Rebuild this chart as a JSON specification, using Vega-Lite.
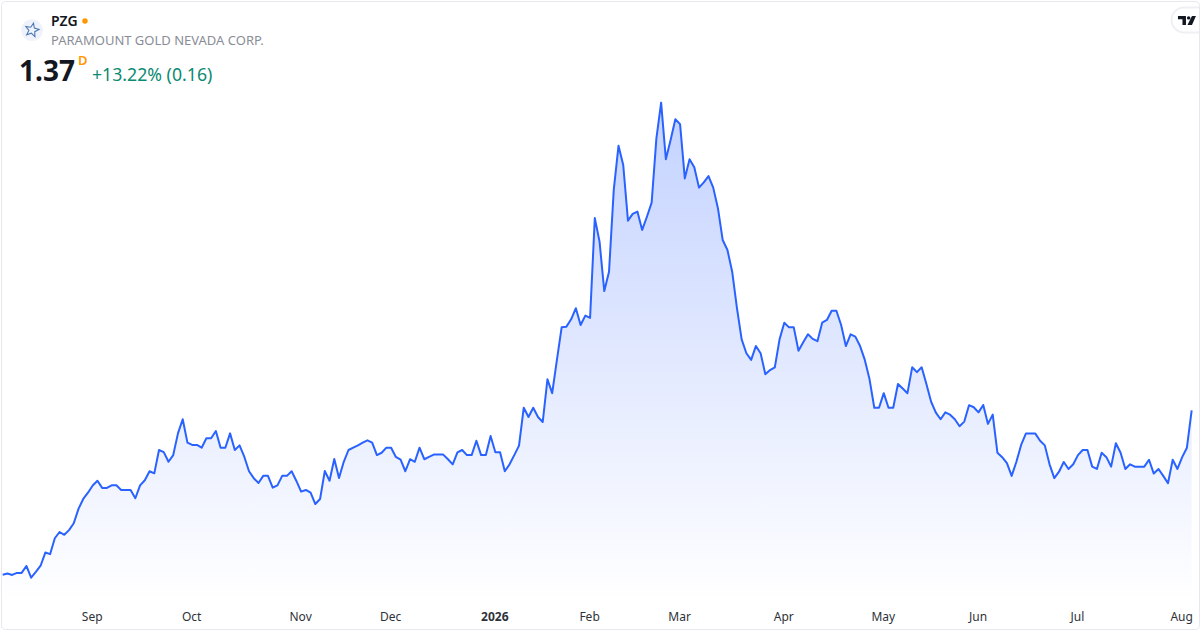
{
  "$schema": "https://vega.github.io/schema/vega-lite/v6.json",
  "description": "PZG daily price, area chart with header",
  "width": 1198,
  "height": 628,
  "padding": 1,
  "autosize": {"type": "none"},
  "background": "white",
  "config": {
    "view": {"stroke": "#e6e8ee", "strokeWidth": 1, "cornerRadius": 4},
    "font": "Noto Sans"
  },
  "datasets": {
    "prices": [
      {"day":0,"price":0.658},{"day":1,"price":0.663},{"day":2,"price":0.657},{"day":3,"price":0.666},{"day":4,"price":0.666},{"day":5,"price":0.696},{"day":6,"price":0.645},{"day":7,"price":0.670},{"day":8,"price":0.697},{"day":9,"price":0.754},
      {"day":10,"price":0.747},{"day":11,"price":0.816},{"day":12,"price":0.843},{"day":13,"price":0.831},{"day":14,"price":0.851},{"day":15,"price":0.881},{"day":16,"price":0.943},{"day":17,"price":0.986},{"day":18,"price":1.013},{"day":19,"price":1.044},
      {"day":20,"price":1.065},{"day":21,"price":1.034},{"day":22,"price":1.034},{"day":23,"price":1.045},{"day":24,"price":1.045},{"day":25,"price":1.025},{"day":26,"price":1.025},{"day":27,"price":1.025},{"day":28,"price":0.989},{"day":29,"price":1.045},
      {"day":30,"price":1.067},{"day":31,"price":1.106},{"day":32,"price":1.097},{"day":33,"price":1.198},{"day":34,"price":1.189},{"day":35,"price":1.147},{"day":36,"price":1.176},{"day":37,"price":1.270},{"day":38,"price":1.331},{"day":39,"price":1.230},
      {"day":40,"price":1.220},{"day":41,"price":1.220},{"day":42,"price":1.208},{"day":43,"price":1.249},{"day":44,"price":1.249},{"day":45,"price":1.280},{"day":46,"price":1.208},{"day":47,"price":1.208},{"day":48,"price":1.270},{"day":49,"price":1.198},
      {"day":50,"price":1.218},{"day":51,"price":1.169},{"day":52,"price":1.106},{"day":53,"price":1.076},{"day":54,"price":1.055},{"day":55,"price":1.086},{"day":56,"price":1.086},{"day":57,"price":1.035},{"day":58,"price":1.045},{"day":59,"price":1.086},
      {"day":60,"price":1.086},{"day":61,"price":1.106},{"day":62,"price":1.064},{"day":63,"price":1.018},{"day":64,"price":1.025},{"day":65,"price":1.013},{"day":66,"price":0.964},{"day":67,"price":0.986},{"day":68,"price":1.107},{"day":69,"price":1.065},
      {"day":70,"price":1.159},{"day":71,"price":1.077},{"day":72,"price":1.147},{"day":73,"price":1.198},{"day":74,"price":1.208},{"day":75,"price":1.218},{"day":76,"price":1.230},{"day":77,"price":1.240},{"day":78,"price":1.230},{"day":79,"price":1.176},
      {"day":80,"price":1.186},{"day":81,"price":1.208},{"day":82,"price":1.208},{"day":83,"price":1.168},{"day":84,"price":1.156},{"day":85,"price":1.106},{"day":86,"price":1.158},{"day":87,"price":1.147},{"day":88,"price":1.208},{"day":89,"price":1.158},
      {"day":90,"price":1.168},{"day":91,"price":1.178},{"day":92,"price":1.178},{"day":93,"price":1.178},{"day":94,"price":1.158},{"day":95,"price":1.136},{"day":96,"price":1.188},{"day":97,"price":1.198},{"day":98,"price":1.176},{"day":99,"price":1.176},
      {"day":100,"price":1.238},{"day":101,"price":1.176},{"day":102,"price":1.176},{"day":103,"price":1.259},{"day":104,"price":1.188},{"day":105,"price":1.188},{"day":106,"price":1.106},{"day":107,"price":1.136},{"day":108,"price":1.176},{"day":109,"price":1.217},
      {"day":110,"price":1.381},{"day":111,"price":1.341},{"day":112,"price":1.381},{"day":113,"price":1.341},{"day":114,"price":1.319},{"day":115,"price":1.504},{"day":116,"price":1.444},{"day":117,"price":1.588},{"day":118,"price":1.729},{"day":119,"price":1.732},
      {"day":120,"price":1.764},{"day":121,"price":1.812},{"day":122,"price":1.739},{"day":123,"price":1.780},{"day":124,"price":1.770},{"day":125,"price":2.202},{"day":126,"price":2.100},{"day":127,"price":1.886},{"day":128,"price":1.970},{"day":129,"price":2.324},
      {"day":130,"price":2.515},{"day":131,"price":2.432},{"day":132,"price":2.191},{"day":133,"price":2.220},{"day":134,"price":2.230},{"day":135,"price":2.151},{"day":136,"price":2.208},{"day":137,"price":2.269},{"day":138,"price":2.547},{"day":139,"price":2.702},
      {"day":140,"price":2.457},{"day":141,"price":2.540},{"day":142,"price":2.630},{"day":143,"price":2.609},{"day":144,"price":2.374},{"day":145,"price":2.457},{"day":146,"price":2.422},{"day":147,"price":2.334},{"day":148,"price":2.357},{"day":149,"price":2.384},
      {"day":150,"price":2.334},{"day":151,"price":2.244},{"day":152,"price":2.107},{"day":153,"price":2.064},{"day":154,"price":1.970},{"day":155,"price":1.813},{"day":156,"price":1.677},{"day":157,"price":1.617},{"day":158,"price":1.588},{"day":159,"price":1.648},
      {"day":160,"price":1.617},{"day":161,"price":1.526},{"day":162,"price":1.544},{"day":163,"price":1.556},{"day":164,"price":1.677},{"day":165,"price":1.749},{"day":166,"price":1.729},{"day":167,"price":1.729},{"day":168,"price":1.628},{"day":169,"price":1.664},
      {"day":170,"price":1.699},{"day":171,"price":1.679},{"day":172,"price":1.669},{"day":173,"price":1.749},{"day":174,"price":1.761},{"day":175,"price":1.801},{"day":176,"price":1.801},{"day":177,"price":1.739},{"day":178,"price":1.648},{"day":179,"price":1.699},
      {"day":180,"price":1.689},{"day":181,"price":1.648},{"day":182,"price":1.588},{"day":183,"price":1.504},{"day":184,"price":1.381},{"day":185,"price":1.381},{"day":186,"price":1.444},{"day":187,"price":1.381},{"day":188,"price":1.381},{"day":189,"price":1.484},
      {"day":190,"price":1.464},{"day":191,"price":1.444},{"day":192,"price":1.556},{"day":193,"price":1.535},{"day":194,"price":1.556},{"day":195,"price":1.484},{"day":196,"price":1.407},{"day":197,"price":1.360},{"day":198,"price":1.331},{"day":199,"price":1.361},
      {"day":200,"price":1.351},{"day":201,"price":1.331},{"day":202,"price":1.301},{"day":203,"price":1.321},{"day":204,"price":1.392},{"day":205,"price":1.383},{"day":206,"price":1.361},{"day":207,"price":1.393},{"day":208,"price":1.311},{"day":209,"price":1.351},
      {"day":210,"price":1.186},{"day":211,"price":1.167},{"day":212,"price":1.141},{"day":213,"price":1.086},{"day":214,"price":1.147},{"day":215,"price":1.220},{"day":216,"price":1.269},{"day":217,"price":1.269},{"day":218,"price":1.269},{"day":219,"price":1.238},
      {"day":220,"price":1.218},{"day":221,"price":1.136},{"day":222,"price":1.076},{"day":223,"price":1.104},{"day":224,"price":1.146},{"day":225,"price":1.116},{"day":226,"price":1.136},{"day":227,"price":1.176},{"day":228,"price":1.198},{"day":229,"price":1.198},
      {"day":230,"price":1.126},{"day":231,"price":1.116},{"day":232,"price":1.186},{"day":233,"price":1.167},{"day":234,"price":1.126},{"day":235,"price":1.227},{"day":236,"price":1.186},{"day":237,"price":1.116},{"day":238,"price":1.136},{"day":239,"price":1.126},
      {"day":240,"price":1.126},{"day":241,"price":1.126},{"day":242,"price":1.156},{"day":243,"price":1.096},{"day":244,"price":1.116},{"day":245,"price":1.086},{"day":246,"price":1.054},{"day":247,"price":1.156},{"day":248,"price":1.116},{"day":249,"price":1.167},
      {"day":250,"price":1.208},{"day":251,"price":1.37}
    ]
  },
  "layer": [
    {
      "data": {"name": "prices"},
      "mark": {
        "type": "area",
        "line": false,
        "color": {
          "gradient": "linear",
          "x1": 1, "y1": 1, "x2": 1, "y2": 0,
          "stops": [
            {"offset": 0, "color": "#ffffff"},
            {"offset": 1, "color": "#c3d2ff"}
          ]
        }
      },
      "encoding": {
        "x": {
          "field": "day",
          "type": "quantitative",
          "scale": {"domain": [-0.359, 252.55], "nice": false, "zero": false},
          "axis": {
            "title": null,
            "orient": "bottom",
            "offset": -27,
            "domain": false,
            "ticks": false,
            "grid": false,
            "labelPadding": 9,
            "labelFontSize": 12,
            "labelColor": "#2e3238",
            "labelFlush": false,
            "labelOverlap": false,
            "labelOffset": -1,
            "values": [19, 40, 63, 82, 104, 124, 143, 165, 186, 206, 227, 249],
            "labelExpr": "{'19':'Sep','40':'Oct','63':'Nov','82':'Dec','104':'2026','124':'Feb','143':'Mar','165':'Apr','186':'May','206':'Jun','227':'Jul','249':'Aug'}[datum.value]",
            "labelFontWeight": {"condition": {"test": "datum.value == 104", "value": 700}, "value": 400}
          }
        },
        "y": {
          "field": "price",
          "type": "quantitative",
          "scale": {"domain": [0.423, 3.142], "nice": false, "zero": false},
          "axis": null
        },
        "y2": {"datum": 0.54}
      }
    },
    {
      "data": {"name": "prices"},
      "mark": {"type": "line", "color": "#2962ff", "strokeWidth": 2, "strokeJoin": "round"},
      "encoding": {
        "x": {"field": "day", "type": "quantitative"},
        "y": {"field": "price", "type": "quantitative"}
      }
    },
    {
      "data": {"values": [{"name": "logo"}]},
      "mark": {"type": "point", "shape": "circle", "filled": true, "color": "#eff2fa", "opacity": 1, "size": 470},
      "encoding": {"x": {"datum": 6.19}, "y": {"datum": 3.016}}
    },
    {
      "data": {"values": [{"name": "logo star"}]},
      "mark": {
        "type": "point",
        "shape": "M0,-.95 L.25,-.34 L.90,-.29 L.40,.13 L.56,.77 L0,.42 L-.56,.77 L-.40,.13 L-.90,-.29 L-.25,-.34 Z",
        "filled": false,
        "stroke": "#4a78b5",
        "strokeWidth": 1.1,
        "opacity": 1,
        "angle": 12,
        "size": 225
      },
      "encoding": {"x": {"datum": 6.19}, "y": {"datum": 3.016}}
    },
    {
      "data": {"values": [{"name": "market status"}]},
      "mark": {"type": "point", "shape": "circle", "filled": true, "color": "#ff9800", "opacity": 1, "size": 30},
      "encoding": {"x": {"datum": 17.37}, "y": {"datum": 3.055}}
    },
    {
      "data": {"values": [{"label": "PZG"}]},
      "mark": {"type": "text", "align": "left", "baseline": "alphabetic", "fontSize": 14, "fontWeight": 600, "color": "#131722"},
      "encoding": {"x": {"datum": 10.2}, "y": {"datum": 3.034}, "text": {"field": "label"}}
    },
    {
      "data": {"values": [{"label": "PARAMOUNT GOLD NEVADA CORP."}]},
      "mark": {"type": "text", "align": "left", "baseline": "alphabetic", "fontSize": 13, "color": "#8a8d96"},
      "encoding": {"x": {"datum": 10.2}, "y": {"datum": 2.951}, "text": {"field": "label"}}
    },
    {
      "data": {"values": [{"label": "1.37"}]},
      "mark": {"type": "text", "align": "left", "baseline": "alphabetic", "fontSize": 28, "fontWeight": 700, "color": "#131722"},
      "encoding": {"x": {"datum": 3.44}, "y": {"datum": 2.796}, "text": {"field": "label"}}
    },
    {
      "data": {"values": [{"label": "D"}]},
      "mark": {"type": "text", "align": "left", "baseline": "alphabetic", "fontSize": 13, "fontWeight": 600, "color": "#ff9800"},
      "encoding": {"x": {"datum": 15.9}, "y": {"datum": 2.864}, "text": {"field": "label"}}
    },
    {
      "data": {"values": [{"label": "+13.22% (0.16)"}]},
      "mark": {"type": "text", "align": "left", "baseline": "alphabetic", "fontSize": 17.7, "color": "#0b8a72"},
      "encoding": {"x": {"datum": 18.85}, "y": {"datum": 2.796}, "text": {"field": "label"}}
    },
    {
      "data": {"values": [{"name": "badge"}]},
      "mark": {
        "type": "point",
        "shape": "M1.1,-.83 L-.2,-.83 A.83,.83 0 0 0 -.2,.83 L1.1,.83 Z",
        "filled": true,
        "fill": "#ffffff",
        "stroke": "#eff0f4",
        "strokeWidth": 2,
        "opacity": 1,
        "size": 900,
        "clip": true
      },
      "encoding": {"x": {"datum": 250.01}, "y": {"datum": 3.06}}
    },
    {
      "data": {"values": [{"name": "badge logo"}]},
      "mark": {
        "type": "point",
        "shape": "M-.9,-.45 L-.1,-.45 L-.1,.45 L-.45,.45 L-.45,-.12 L-.9,-.12 Z M.34,-.25 A.17,.17 0 1 1 0,-.25 A.17,.17 0 1 1 .34,-.25 Z M.5,-.45 L.9,-.45 L.5,.45 L.05,.45 Z",
        "filled": true,
        "color": "#131722",
        "opacity": 1,
        "size": 400
      },
      "encoding": {"x": {"datum": 250.01}, "y": {"datum": 3.058}}
    }
  ]
}
